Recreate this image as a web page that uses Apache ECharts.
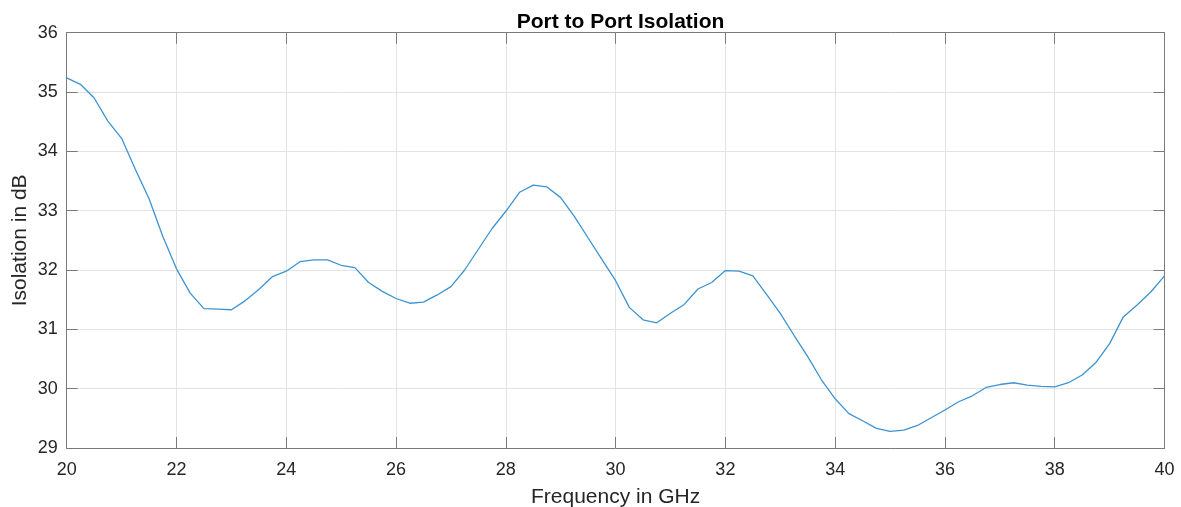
<!DOCTYPE html>
<html><head><meta charset="utf-8">
<script src="https://cdn.jsdelivr.net/npm/echarts@6/dist/echarts.min.js"></script>
<style>html,body{margin:0;padding:0;background:#fff}#c{width:1181px;height:507px}</style>
</head><body><div id="c"></div>
<script>
const freqStart = 20, freqStep = 0.25;
const isolation = [
35.24,35.13,34.90,34.51,34.22,33.70,33.20,32.57,32.02,31.61,31.35,31.34,31.33,31.48,31.67,31.89,
31.98,32.14,32.17,32.17,32.08,32.04,31.79,31.64,31.52,31.44,31.46,31.58,31.72,32.00,32.35,32.70,
32.99,33.31,33.43,33.40,33.22,32.90,32.54,32.18,31.82,31.37,31.16,31.11,31.27,31.42,31.68,31.79,
31.99,31.98,31.90,31.59,31.27,30.90,30.54,30.15,29.83,29.58,29.46,29.33,29.28,29.30,29.38,29.51,
29.64,29.78,29.88,30.02,30.07,30.10,30.06,30.04,30.03,30.10,30.23,30.44,30.76,31.21,31.41,31.63,31.90
];
const freqs = isolation.map((v, i) => +(freqStart + i * freqStep).toFixed(2));
const xTicks = [20,22,24,26,28,30,32,34,36,38,40];
const yTicks = [29,30,31,32,33,34,35,36];

const font = 'Liberation Sans, Arial, sans-serif';
const axisCol = '#7a7a7a';
const txtCol = '#262626';
const baseAxis = {
  axisLine: {show: true, onZero: false, lineStyle: {color: axisCol, width: 1}},
  axisTick: {show: true, inside: true, length: 11, lineStyle: {color: axisCol}},
};
const chart = echarts.init(document.getElementById('c'), null, {renderer: 'canvas'});
chart.setOption({
  animation: false,
  backgroundColor: '#fff',
  title: {text: 'Port to Port Isolation', left: 615.5, top: 7, textAlign: 'center',
    textStyle: {fontFamily: font, fontSize: 21, fontWeight: 'bold', color: '#000'}},
  grid: {left: 66.7, right: 16.5, top: 32.7, bottom: 59, containLabel: false, outerBoundsMode: 'none'},
  xAxis: [
    Object.assign({type: 'value', min: 20, max: 40, interval: 2, position: 'bottom',
      name: 'Frequency in GHz', nameLocation: 'middle', nameGap: 39,
      nameTextStyle: {fontFamily: font, fontSize: 21, color: txtCol},
      axisLabel: {fontFamily: font, fontSize: 18, color: txtCol, margin: 13},
      splitLine: {show: true, lineStyle: {color: '#e3e3e3', width: 1}}}, baseAxis),
    Object.assign({type: 'value', min: 20, max: 40, interval: 2, position: 'top',
      axisLabel: {show: false}, splitLine: {show: false}}, baseAxis)
  ],
  yAxis: [
    Object.assign({type: 'value', min: 29, max: 36, interval: 1, position: 'left',
      name: 'Isolation in dB', nameLocation: 'middle', nameGap: 36, nameRotate: 90,
      nameMoveOverlap: false,
      nameTextStyle: {fontFamily: font, fontSize: 21, color: txtCol},
      axisLabel: {fontFamily: font, fontSize: 18, color: txtCol, margin: 9},
      splitLine: {show: true, lineStyle: {color: '#e3e3e3', width: 1}}}, baseAxis),
    Object.assign({type: 'value', min: 29, max: 36, interval: 1, position: 'right',
      axisLabel: {show: false}, splitLine: {show: false}}, baseAxis)
  ],
  series: [{
    type: 'line', xAxisIndex: 0, yAxisIndex: 0,
    data: freqs.map((f, i) => [f, isolation[i]]),
    showSymbol: false, symbol: 'none',
    lineStyle: {color: '#3d93d1', width: 1.3},
    itemStyle: {color: '#3d93d1'}
  }]
});
</script></body></html>
